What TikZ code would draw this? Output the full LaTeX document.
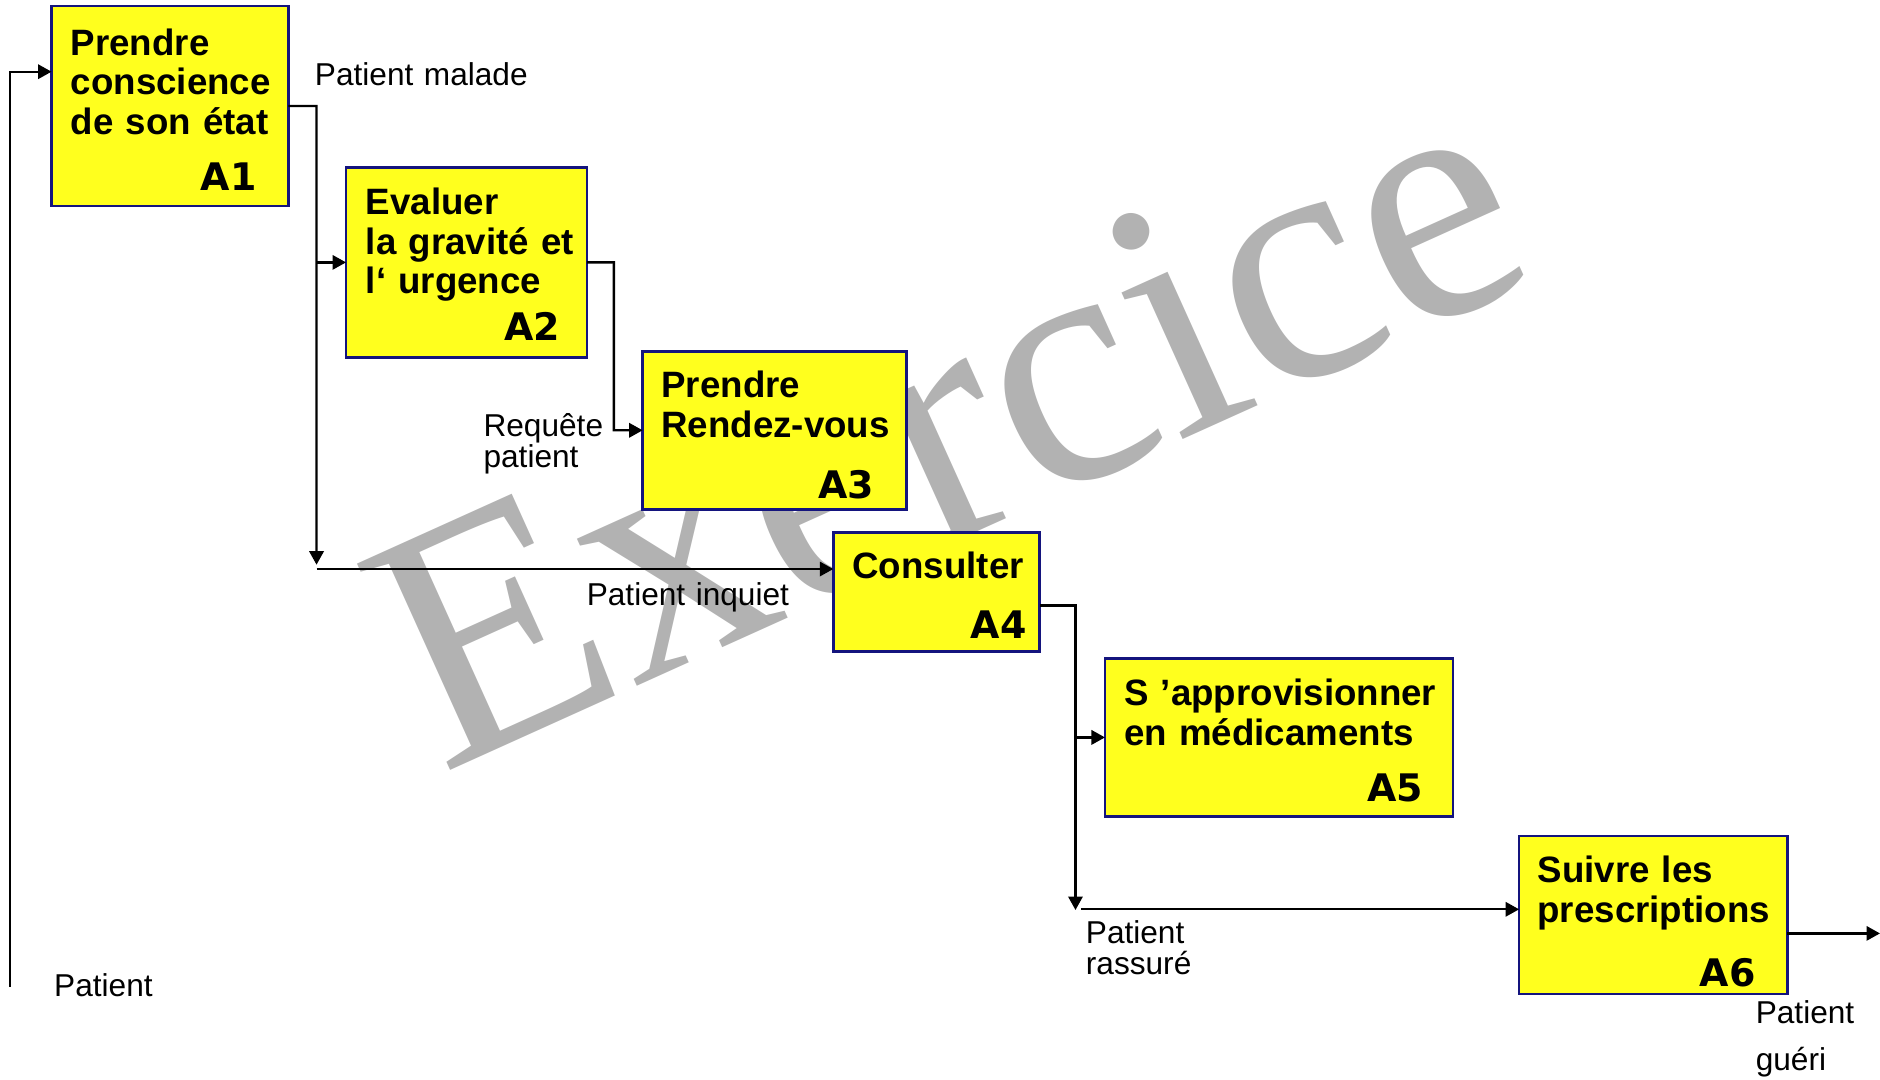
\documentclass[tikz,border=0pt]{standalone}
\usepackage{fontspec}
\setmainfont{Liberation Sans}
\newfontfamily\codefont{DejaVu Sans}
\newfontfamily\markfont{Liberation Serif}
\usetikzlibrary{arrows.meta}
\definecolor{boxfill}{RGB}{255,255,30}
\definecolor{boxline}{RGB}{20,20,125}
\definecolor{markgray}{RGB}{178,178,178}
\begin{document}
\begin{tikzpicture}[x=0.01cm,y=-0.01cm,
  activity/.style={draw=boxline, line width=0.6pt, fill=boxfill, anchor=north west, inner sep=0pt, outer sep=0pt},
  title/.style={anchor=base west, inner sep=0pt, text width=4cm, align=left, font=\fontsize{8.7}{9.4}\selectfont\bfseries},
  code/.style={anchor=base east, inner sep=0pt, font=\codefont\fontsize{9}{9}\selectfont\bfseries},
  flow/.style={anchor=base west, inner sep=0pt, text width=3cm, align=left, font=\fontsize{7.5}{7.2}\selectfont},
  conn/.style={line width=0.55pt},
  arr/.style={conn, -{Triangle[length=3.2pt,width=3.4pt]}}]

\useasboundingbox (0,0) rectangle (1568,900);

% watermark behind everything
\node[anchor=base west, inner sep=0pt, rotate=24.3, text=markgray,
      font=\markfont\fontsize{82}{82}\selectfont] (wm) at (368,646) {Exercice};

% activity boxes
\node[activity, minimum width=1.975cm, minimum height=1.668cm] (A1) at (43,5) {};
\node[activity, minimum width=2.007cm, minimum height=1.584cm] (A2) at (288.6,139.6) {};
\node[activity, minimum width=2.2cm,   minimum height=1.317cm] (A3) at (536,293) {};
\node[activity, minimum width=1.72cm,  minimum height=0.995cm] (A4) at (695,444) {};
\node[activity, minimum width=2.899cm, minimum height=1.32cm]  (A5) at (921.6,549) {};
\node[activity, minimum width=2.237cm, minimum height=1.317cm] (A6) at (1267,697.3) {};

% box titles
\node[title] (t1) at (58.4,46)    {Prendre\\conscience\\de son état};
\node[title] (t2) at (304.4,179)  {Evaluer\\la gravité et\\l‘ urgence};
\node[title] (t3) at (551,331.5)  {Prendre\\Rendez-vous};
\node[title] (t4) at (710.3,482.8){Consulter};
\node[title] (t5) at (937,588.6)  {S ’approvisionner\\en médicaments};
\node[title] (t6) at (1281.7,736.2){Suivre les\\prescriptions};

% box codes
\node[code] (c1) at (214.6,159)   {A1};
\node[code] (c2) at (467.6,283.6) {A2};
\node[code] (c3) at (729.8,415.6) {A3};
\node[code] (c4) at (856.9,532.4) {A4};
\node[code] (c5) at (1187.7,668.6){A5};
\node[code] (c6) at (1465,823)    {A6};

% routing points
\coordinate (in0)  at (8.3,823);
\coordinate (in1)  at (8.3,59.8);
\coordinate (j1)   at (264,88.4);
\coordinate (j1b)  at (264,471);
\coordinate (j2)   at (512,218.8);
\coordinate (l4)   at (264,474.6);
\coordinate (j4)   at (897,505);
\coordinate (j4b)  at (897,759);
\coordinate (l6)   at (902,758.4);
\coordinate (out6) at (1568,778.5);

% connectors
\draw[arr] (in0) -- (in1) -- (in1 -| A1.west);
\draw[arr] (A1.east) -- (j1) -- (j1b);
\draw[arr] (j1 |- A2.west) -- (A2.west);
\draw[arr] (A2.east) -- (j2) |- (A3.west);
\draw[arr] (l4) -- (l4 -| A4.west);
\draw[arr] (j4 -| A4.east) -- (j4) -- (j4b);
\draw[arr] (j4 |- A5.west) -- (A5.west);
\draw[arr] (l6) -- (l6 -| A6.west);
\draw[arr] (out6 -| A6.east) -- (out6);

% flow labels
\node[flow] (f1) at (262,71.5)    {Patient malade};
\node[flow] (f2) at (402.6,364.2) {Requête\\patient};
\node[flow] (f3) at (488.7,505.4) {Patient inquiet};
\node[flow, font=\fontsize{7.5}{7.4}\selectfont] (f4) at (905,787) {Patient\\rassuré};
\node[flow, font=\fontsize{7.5}{11.1}\selectfont] (f5) at (1463.7,853.5) {Patient\\guéri};
\node[flow] (f6) at (44.5,831)    {Patient};
\end{tikzpicture}
\end{document}
